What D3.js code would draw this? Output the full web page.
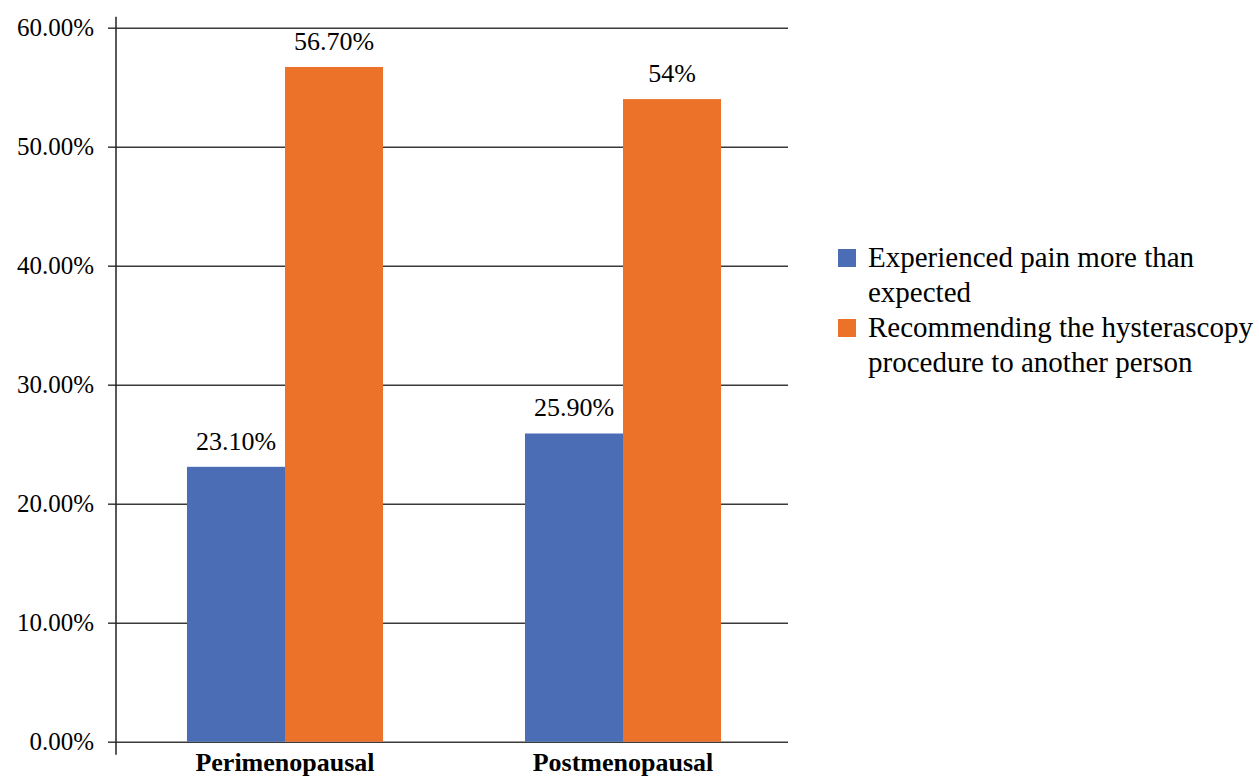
<!DOCTYPE html>
<html>
<head>
<meta charset="utf-8">
<script src="https://cdn.jsdelivr.net/npm/d3@7"></script>
<style>
  html, body { margin: 0; padding: 0; background: #fff; }
  svg { display: block; }
  text { font-family: "Liberation Serif", "Times New Roman", serif; fill: #000; }
</style>
</head>
<body>
<svg id="chart" width="1259" height="776"></svg>
<script>
const categories = ["Perimenopausal", "Postmenopausal"];
const seriesNames = ["Experienced pain more than expected", "Recommending the hysterascopy procedure to another person"];
const painValues = [0.231, 0.259];
const recommendValues = [0.567, 0.54];
const valueLabels = [["23.10%", "56.70%"], ["25.90%", "54%"]];
const yTicks = [0, 0.1, 0.2, 0.3, 0.4, 0.5, 0.6];
const legendLines = [["Experienced pain more than", "expected"], ["Recommending the hysterascopy", "procedure to another person"]];
const colors = ["#4a6db5", "#ec7129"];

const svg = d3.select("#chart");
const plotLeft = 116, plotRight = 788, plotTop = 27.7, plotBottom = 741.7;

const y = d3.scaleLinear().domain([0, 0.6]).range([plotBottom, plotTop]);
const x0 = d3.scaleBand().domain(categories).range([116, 792]).paddingInner(0.42).paddingOuter(0.21);
const x1 = d3.scaleBand().domain([0, 1]).range([0, x0.bandwidth()]);

// gridlines + ticks
const yAxis = d3.axisLeft(y).tickValues(yTicks).tickFormat(d3.format(".2%"))
  .tickSizeInner(-(plotRight - plotLeft)).tickSizeOuter(0).tickPadding(22);
const gy = svg.append("g").attr("transform", `translate(${plotLeft},0)`).call(yAxis);
gy.select(".domain").remove();
gy.selectAll(".tick line").attr("stroke", "#3a3a3a").attr("stroke-width", 1.5);
gy.selectAll(".tick").append("line").attr("x1", -8).attr("x2", 0).attr("stroke", "#3a3a3a").attr("stroke-width", 1.5);
gy.selectAll(".tick text").attr("font-size", 25).attr("font-family", "Liberation Serif").attr("fill", "#000").attr("dy", "0.3em");

// bars
const rows = categories.map((c, i) => ({ cat: c, vals: [painValues[i], recommendValues[i]] }));
const groups = svg.append("g").selectAll("g").data(rows).join("g")
  .attr("transform", d => `translate(${x0(d.cat)},0)`);
groups.selectAll("rect").data(d => d.vals.map((v, k) => ({ v, k })))
  .join("rect")
  .attr("x", d => x1(d.k))
  .attr("width", x1.bandwidth())
  .attr("y", d => y(d.v))
  .attr("height", d => y(0) - y(d.v))
  .attr("fill", d => colors[d.k]);

// value labels
groups.each(function(d, i) {
  d3.select(this).selectAll("text.val").data(d.vals).join("text")
    .attr("class", "val")
    .attr("x", (v, k) => x1(k) + x1.bandwidth() / 2)
    .attr("y", v => y(v) - 17)
    .attr("text-anchor", "middle")
    .attr("font-size", 26)
    .text((v, k) => valueLabels[i][k]);
});

// y axis line
svg.append("line")
  .attr("x1", plotLeft).attr("x2", plotLeft)
  .attr("y1", y(0.6) - 11).attr("y2", y(0) + 13)
  .attr("stroke", "#222").attr("stroke-width", 1.5);

// category labels
svg.append("g").selectAll("text").data(categories).join("text")
  .attr("x", d => x0(d) + x0.bandwidth() / 2)
  .attr("y", 771)
  .attr("text-anchor", "middle")
  .attr("font-size", 26)
  .attr("font-weight", "bold")
  .text(d => d);

// legend
const legend = svg.append("g").attr("transform", "translate(838,0)");
const lg = legend.selectAll("g").data(seriesNames).join("g")
  .attr("transform", (d, i) => `translate(0,${249 + i * 70})`);
lg.append("rect").attr("width", 18).attr("height", 18).attr("fill", (d, i) => colors[i]);
lg.each(function(d, i) {
  d3.select(this).selectAll("text").data(legendLines[i]).join("text")
    .attr("x", 30)
    .attr("y", (t, j) => 18 + j * 34.5)
    .attr("font-size", 29)
    .text(t => t);
});
</script>
</body>
</html>
